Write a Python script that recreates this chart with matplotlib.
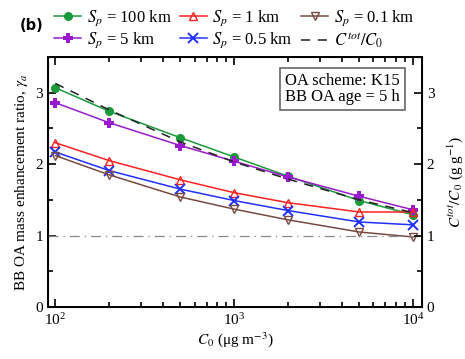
import matplotlib
matplotlib.use("Agg")
import matplotlib.pyplot as plt
from matplotlib.ticker import MultipleLocator, LogLocator, NullFormatter

plt.rcParams['font.family'] = ['Liberation Serif', 'DejaVu Serif']
plt.rcParams['mathtext.fontset'] = 'stix'

# Initial OA concentration (ug m-3)
c0 = [100, 200, 500, 1000, 2000, 5000, 10000]

# Mass enhancement ratio for each plume length scale Sp
sp_100km = [3.07, 2.74, 2.37, 2.10, 1.83, 1.49, 1.29]
sp_5km = [2.86, 2.58, 2.26, 2.04, 1.82, 1.55, 1.36]
sp_1km = [2.30, 2.05, 1.78, 1.60, 1.46, 1.33, 1.33]
sp_05km = [2.17, 1.91, 1.65, 1.49, 1.35, 1.19, 1.15]
sp_01km = [2.12, 1.85, 1.54, 1.37, 1.22, 1.05, 0.98]

# Total organic material relative to C0
ctot_ratio = [3.13, 2.76, 2.31, 2.03, 1.79, 1.50, 1.32]

fs = 11

fig = plt.figure(figsize=(4.65, 3.59), dpi=100)
ax = fig.add_axes([48/465, 1-307/359, (422-48)/465, (307-57)/359])

h1, = ax.plot(c0, sp_100km, color='#1a9a3a', marker='o', ms=5.5, lw=1.1)
h4, = ax.plot(c0, sp_5km, color='#9a1ad0', marker='P', ms=7.5, lw=1.1, mew=0)
h2, = ax.plot(c0, sp_1km, color='#ff2020', marker='^', ms=5.5, mfc='none', lw=1.1)
h5, = ax.plot(c0, sp_05km, color='#2030ff', marker='x', ms=6.5, mew=1.4, lw=1.1)
h3, = ax.plot(c0, sp_01km, color='#7a4a40', marker='v', ms=5.5, mfc='none', lw=1.1)
h6, = ax.plot(c0, ctot_ratio, color='#222222', ls=(0, (6, 5)), lw=1.1)
ax.axhline(1.0, color='#888888', lw=0.9, ls=(0, (8, 4, 1, 4)))

ax.set_xscale('log')
ax.set_xlim(91, 11200)
ax.set_ylim(0, 3.5)
ax.yaxis.set_major_locator(MultipleLocator(1))
ax.yaxis.set_minor_locator(MultipleLocator(0.5))
ax.xaxis.set_minor_locator(LogLocator(base=10, subs=range(2, 10)))
ax.xaxis.set_minor_formatter(NullFormatter())
ax.tick_params(which='both', direction='in', top=True, labelsize=fs, width=1.2)
ax.tick_params(which='major', length=6)
ax.tick_params(which='minor', length=3.5)
for s in ax.spines.values():
    s.set_linewidth(1.4)

ax.set_xlabel(r'$C_0$ (μg m$^{-3}$)', fontsize=fs, labelpad=2)
ax.set_ylabel(r'BB OA mass enhancement ratio, $\gamma_a$', fontsize=fs, labelpad=4)

ax2 = ax.twinx()
ax2.set_ylim(0, 3.5)
ax2.yaxis.set_major_locator(MultipleLocator(1))
ax2.yaxis.set_minor_locator(MultipleLocator(0.5))
ax2.tick_params(which='both', direction='in', labelsize=fs, width=1.2)
ax2.tick_params(which='major', length=6)
ax2.tick_params(which='minor', length=3.5)
ax2.set_ylabel(r'$C^{tot}/C_0$ (g g$^{-1}$)', fontsize=fs, labelpad=8)

ax.text(0.635, 0.935, 'OA scheme: K15\nBB OA age = 5 h', transform=ax.transAxes,
        fontsize=fs + 1, va='top', ha='left', linespacing=1.0,
        bbox=dict(boxstyle='square,pad=0.3', fc='white', ec='#666666', lw=1.2))

fig.legend([h1, h4, h2, h5, h3, h6],
           [r'$S_p$ = 100 km', r'$S_p$ = 5 km', r'$S_p$ = 1 km', r'$S_p$ = 0.5 km',
            r'$S_p$ = 0.1 km', r'$C^{tot}/C_0$'],
           ncol=3, loc='upper left', bbox_to_anchor=(46/465, 1.0), frameon=False,
           fontsize=fs + 1, handlelength=1.6, handletextpad=0.35, columnspacing=0.5,
           labelspacing=0.15, borderaxespad=0.1)

fig.text(20/465, 1-26/359, '(b)', fontsize=10.5, fontweight='bold', family='DejaVu Sans',
         va='center', ha='left')

fig.savefig('out.png', dpi=100)
